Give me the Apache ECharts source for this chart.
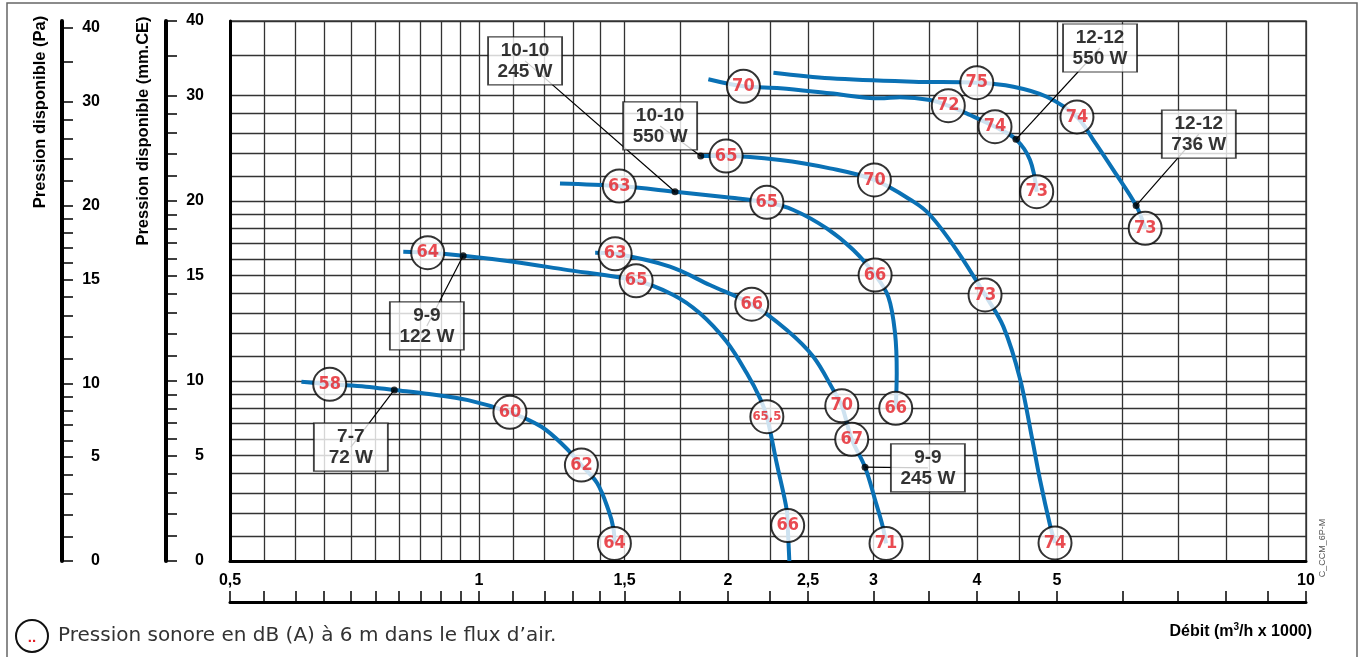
<!DOCTYPE html>
<html>
<head>
<meta charset="utf-8">
<script src="https://cdn.jsdelivr.net/npm/echarts@6/dist/echarts.min.js"></script>
<style>
html, body { margin: 0; padding: 0; background: #fff; }
#chart { width: 1364px; height: 657px; }
</style>
</head>
<body>
<div id="chart"></div>
<script>
// débit (m3/h x 1000) , pression (mm.CE)
var curve77 = [[0.61,9.94],[0.66,9.75],[0.73,9.57],[0.79,9.32],[0.87,9.02],[0.97,8.58],[1.09,7.73],[1.19,6.77],[1.27,5.53],[1.33,4.47],[1.39,3.49],[1.434,2.17],[1.454,1.34],[1.458,0.7]];
var curve99a = [[0.81,16.45],[0.867,16.39],[0.957,16.2],[1.1,15.83],[1.265,15.37],[1.549,14.71],[1.718,13.93],[1.85,12.98],[1.993,11.63],[2.108,10.3],[2.187,8.71],[2.229,7.43],[2.291,4.57],[2.356,2.17],[2.362,1.46],[2.373,0]];
var curve99b = [[1.382,16.39],[1.461,16.32],[1.702,15.53],[1.902,14.47],[2.137,13.44],[2.356,12.17],[2.537,10.98],[2.682,9.32],[2.746,8.18],[2.823,5.98],[2.93,4.35],[3.013,2.65],[3.078,1.41],[3.106,0.7]];
var curve1010a = [[1.253,21.4],[1.478,21.18],[1.726,20.73],[1.993,20.29],[2.229,19.9],[2.4,19.32],[2.633,18.0],[2.836,16.56],[3.013,15.04],[3.126,13.83],[3.185,12.02],[3.2,10.3],[3.191,8.0]];
var curve1010b = [[1.854,23.78],[1.99,23.78],[2.313,23.42],[2.657,22.68],[3.007,21.69],[3.352,19.95],[3.511,18.95],[3.781,16.56],[4.092,13.93],[4.306,12.33],[4.511,10.08],[4.66,6.14],[4.769,3.66],[4.903,1.49],[4.972,0.72]];
var curve1212a = [[1.894,31.96],[2.088,31.1],[2.313,30.87],[2.657,30.28],[3.055,29.7],[3.229,29.82],[3.511,29.51],[3.694,28.87],[3.924,27.85],[4.207,26.62],[4.46,25.36],[4.638,23.42],[4.725,20.73]];
var curve1212b = [[2.27,32.78],[2.657,32.08],[3.352,31.66],[3.999,31.54],[4.428,31.06],[4.858,29.88],[5.285,27.64],[5.533,25.29],[5.85,22.53],[6.232,19.65],[6.391,18.0]];

// pression sonore dB(A) : [débit, pression, valeur]
var noise = [
    [0.66,9.75,'58'],[1.09,7.73,'60'],[1.33,4.47,'62'],[1.458,0.7,'64'],
    [0.867,16.39,'64'],[1.549,14.71,'65'],[2.229,7.43,'65,5'],[2.362,1.46,'66'],
    [1.461,16.32,'63'],[2.137,13.44,'66'],[2.746,8.18,'70'],[2.823,5.98,'67'],[3.106,0.7,'71'],
    [1.478,21.18,'63'],[2.229,19.9,'65'],[3.013,15.04,'66'],[3.191,8.0,'66'],
    [1.99,23.78,'65'],[3.007,21.69,'70'],[4.092,13.93,'73'],[4.972,0.72,'74'],
    [2.088,31.1,'70'],[3.694,28.87,'72'],[4.207,26.62,'74'],[4.725,20.73,'73'],
    [3.999,31.54,'75'],[5.285,27.64,'74'],[6.391,18.0,'73']
];

// repères : point sur la courbe, position de l'étiquette
var tagNames = ['7-7\n72 W', '9-9\n122 W', '9-9\n245 W', '10-10\n245 W', '10-10\n550 W', '12-12\n550 W', '12-12\n736 W'];
var tagPoints = [[0.79,9.32],[0.957,16.2],[2.93,4.35],[1.726,20.73],[1.854,23.78],[4.46,25.36],[6.232,19.65]];
var tagBoxes = [[0.70,5.51],[0.865,12.36],[3.49,4.31],[1.137,34.3],[1.656,26.7],[5.636,36.05],[7.42,25.88]];

var xTicks = [0.5,0.55,0.6,0.65,0.7,0.75,0.8,0.85,0.9,0.95,1,1.1,1.2,1.3,1.4,1.5,1.75,2,2.25,2.5,3,3.5,4,4.5,5,6,7,8,9,10];
var xLabels = [0.5,1,1.5,2,2.5,3,4,5,10];
var xLabelText = ['0,5','1','1,5','2','2,5','3','4','5','10'];
var yTicks = [0,1,2,3,4,5,6,7,8,9,10,11,12,13,14,15,16,17,18,19,20,22,24,26,28,30,35,40];
var yLabels = [0,5,10,15,20,30,40];

// échelles du graphique
function lx(x) { return Math.log10(x); }
function ly(v) { return v <= 10 ? Math.log10(1 + v / 10) : Math.log10(v / 5); }
function pts(arr) { return arr.map(function (p) { return [lx(p[0]), ly(p[1])]; }); }
function pick(vals, texts, fn) {
    return function (val) {
        for (var i = 0; i < vals.length; i++) {
            if (Math.abs(fn(vals[i]) - val) < 1e-6) return texts[i];
        }
        return '';
    };
}

var FONT = "'Liberation Sans', Arial, sans-serif";
var NARROW = "'DejaVu Sans Condensed', 'Liberation Sans Narrow', sans-serif";
var yMax = ly(40);

var chart = echarts.init(document.getElementById('chart'));

var curves = [curve77, curve99a, curve99b, curve1010a, curve1010b, curve1212a, curve1212b];
var series = curves.map(function (c) {
    return {
        type: 'line', data: pts(c), smooth: 0.35, symbol: 'none', silent: true,
        lineStyle: { color: '#0a71b5', width: 4 }, z: 3
    };
});

tagPoints.forEach(function (p, i) {
    series.push({
        type: 'line', data: pts([p, tagBoxes[i]]), symbol: 'none', silent: true,
        lineStyle: { color: '#000', width: 1.2 }, z: 4
    });
});

series.push({
    type: 'scatter', data: pts(tagPoints), symbolSize: 7, silent: true,
    itemStyle: { color: '#000' }, z: 5
});

series.push({
    type: 'scatter', silent: true, z: 6,
    symbol: 'rect', symbolSize: [74, 48],
    itemStyle: { color: '#fff', borderColor: '#111', borderWidth: 1.5 },
    label: {
        show: true, position: 'inside', formatter: '{b}', color: '#000',
        fontFamily: FONT, fontWeight: 'bold', fontSize: 19, lineHeight: 21,
        textBorderWidth: 0
    },
    data: tagBoxes.map(function (b, i) { return { name: tagNames[i], value: [lx(b[0]), ly(b[1])] }; })
});

series.push({
    type: 'scatter', silent: true, z: 7,
    symbol: 'circle', symbolSize: 33,
    itemStyle: { color: '#fff', borderColor: '#000', borderWidth: 2 },
    label: {
        show: true, position: 'inside', formatter: '{b}', color: '#e31e26',
        fontFamily: NARROW, fontWeight: 'bold', fontSize: 18,
        textBorderWidth: 0, textBorderColor: 'transparent'
    },
    data: noise.map(function (n) {
        var item = { name: n[2], value: [lx(n[0]), ly(n[1])] };
        if (n[2].length > 2) item.label = { fontSize: 13 };
        return item;
    })
});

var labelFont = { color: '#000', fontFamily: FONT, fontWeight: 'bold', fontSize: 16 };

var option = {
    animation: false,
    grid: {
        left: 230, right: 58, top: 21, bottom: 96,
        show: true, borderColor: '#444', borderWidth: 1.5
    },
    xAxis: [
        {
            type: 'value', min: lx(0.5), max: lx(10), position: 'bottom',
            axisLine: { onZero: false, lineStyle: { color: '#000', width: 3 } },
            axisTick: { show: false, customValues: xTicks.map(lx) },
            axisLabel: { show: false },
            splitLine: { show: true, lineStyle: { color: '#333', width: 1.3 } }
        },
        {
            type: 'value', min: lx(0.5), max: lx(10), position: 'bottom', offset: 41,
            axisLine: { onZero: false, lineStyle: { color: '#000', width: 3 } },
            axisTick: { inside: true, length: 11, customValues: xTicks.map(lx), lineStyle: { color: '#000', width: 1.5 } },
            axisLabel: Object.assign({
                inside: true, margin: 13, customValues: xLabels.map(lx),
                formatter: pick(xLabels, xLabelText, lx)
            }, labelFont),
            splitLine: { show: false }
        }
    ],
    yAxis: [
        {
            type: 'value', min: 0, max: yMax, position: 'left',
            axisLine: { show: true, onZero: false, lineStyle: { color: '#000', width: 3 } },
            axisTick: { show: false, customValues: yTicks.map(ly) },
            axisLabel: { show: false },
            splitLine: { show: true, lineStyle: { color: '#333', width: 1.3 } }
        },
        {
            type: 'value', min: 0, max: yMax, position: 'left', offset: 64,
            axisLine: { show: true, onZero: false, lineStyle: { color: '#000', width: 4 } },
            axisTick: { inside: true, length: 11, customValues: yTicks.map(ly), lineStyle: { color: '#000', width: 1.5 } },
            axisLabel: Object.assign({
                inside: true, align: 'right', margin: 38, customValues: yLabels.map(ly),
                formatter: pick(yLabels, yLabels.map(String), ly)
            }, labelFont),
            splitLine: { show: false }
        },
        {
            type: 'value', min: 0, max: yMax * 540 / 533, position: 'left', offset: 168,
            axisLine: { show: true, onZero: false, lineStyle: { color: '#000', width: 4 } },
            axisTick: { inside: true, length: 11, customValues: yTicks.map(ly), lineStyle: { color: '#000', width: 1.5 } },
            axisLabel: Object.assign({
                inside: true, align: 'right', margin: 38, customValues: yLabels.map(ly),
                formatter: pick(yLabels, yLabels.map(String), ly)
            }, labelFont),
            splitLine: { show: false }
        }
    ],
    graphic: [
        {
            type: 'rect', shape: { x: 7, y: 3, width: 1350, height: 700 }, silent: true,
            style: { fill: 'none', stroke: '#666', lineWidth: 1.5 }
        },
        {
            type: 'text', x: 40, y: 112, rotation: Math.PI / 2, silent: true,
            style: { text: 'Pression disponible (Pa)', fill: '#000', font: 'bold 16.5px ' + FONT, textAlign: 'center', textVerticalAlign: 'middle' }
        },
        {
            type: 'text', x: 143, y: 131, rotation: Math.PI / 2, silent: true,
            style: { text: 'Pression disponible (mm.CE)', fill: '#000', font: 'bold 16.5px ' + FONT, textAlign: 'center', textVerticalAlign: 'middle' }
        },
        {
            type: 'text', x: 1312, y: 632, silent: true,
            style: {
                text: '{a|Débit (m}{s|3}{a|/h x 1000)}', textAlign: 'right', textVerticalAlign: 'middle',
                rich: {
                    a: { fontFamily: FONT, fontWeight: 'bold', fontSize: 16, fill: '#000', lineHeight: 20 },
                    s: { fontFamily: FONT, fontWeight: 'bold', fontSize: 10, fill: '#000', lineHeight: 20, verticalAlign: 'top' }
                }
            }
        },
        {
            type: 'circle', shape: { cx: 32, cy: 636, r: 16 }, silent: true,
            style: { fill: '#fff', stroke: '#111', lineWidth: 2 }
        },
        {
            type: 'text', x: 32, y: 638, silent: true,
            style: { text: '..', fill: '#e31e26', font: 'bold 15px ' + FONT, textAlign: 'center', textVerticalAlign: 'middle' }
        },
        {
            type: 'text', x: 58, y: 636, silent: true,
            style: { text: 'Pression sonore en dB (A) à 6 m dans le flux d\u2019air.', fill: '#333', font: '20px ' + "'DejaVu Sans', sans-serif", textVerticalAlign: 'middle' }
        },
        {
            type: 'text', x: 1323, y: 548, rotation: Math.PI / 2, silent: true,
            style: { text: 'C_CCM_6P-M', fill: '#555', font: '9px ' + FONT, textAlign: 'center', textVerticalAlign: 'middle' }
        }
    ],
    series: series
};

chart.setOption(option);
window.addEventListener('resize', chart.resize);
</script>
</body>
</html>
